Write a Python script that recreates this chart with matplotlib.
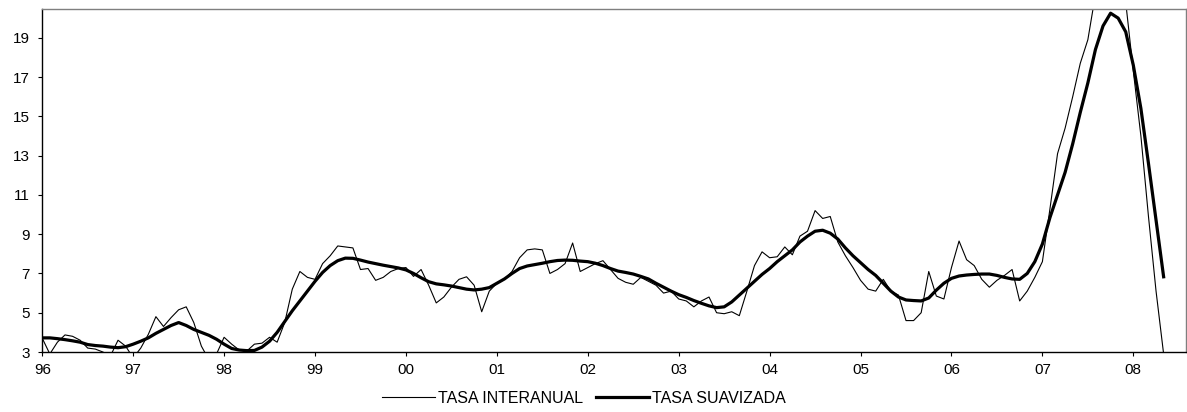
import numpy as np
import matplotlib.pyplot as plt

# monthly series, Jan 1996 .. May 2008
interanual = [
    3.70, 2.90, 3.50, 3.87, 3.80, 3.60, 3.20, 3.15, 3.00, 2.80, 3.60, 3.30,  # 96
    2.70, 3.20, 3.90, 4.80, 4.30, 4.75, 5.15, 5.30, 4.50, 3.30, 2.60, 2.90,  # 97
    3.75, 3.40, 3.10, 3.05, 3.40, 3.45, 3.75, 3.50, 4.50, 6.20, 7.10, 6.80,  # 98
    6.70, 7.50, 7.90, 8.40, 8.35, 8.30, 7.20, 7.25, 6.65, 6.80, 7.10, 7.25,  # 99
    7.30, 6.85, 7.20, 6.40, 5.50, 5.80, 6.30, 6.70, 6.83, 6.40, 5.05, 6.10,  # 00
    6.50, 6.70, 7.10, 7.80, 8.20, 8.25, 8.20, 7.00, 7.20, 7.50, 8.55, 7.10,  # 01
    7.30, 7.50, 7.65, 7.20, 6.75, 6.55, 6.45, 6.80, 6.60, 6.40, 6.00, 6.10,  # 02
    5.70, 5.60, 5.30, 5.60, 5.80, 5.00, 4.95, 5.05, 4.85, 6.10, 7.40, 8.10,  # 03
    7.80, 7.85, 8.35, 7.95, 8.90, 9.15, 10.20, 9.80, 9.90, 8.60, 7.90, 7.30,  # 04
    6.65, 6.20, 6.10, 6.70, 6.10, 5.90, 4.60, 4.60, 5.00, 7.10, 5.85, 5.70,  # 05
    7.30, 8.65, 7.70, 7.40, 6.70, 6.30, 6.65, 6.90, 7.20, 5.60, 6.10, 6.80,  # 06
    7.60, 10.30, 13.10, 14.40, 16.00, 17.70, 18.90, 21.20, 22.30, 22.60, 22.30, 20.80,  # 07
    17.30, 14.00, 9.90, 6.10, 2.90,  # 08
]

suavizada = [
    3.72, 3.72, 3.68, 3.63, 3.57, 3.50, 3.38, 3.33, 3.30, 3.25, 3.22, 3.27,
    3.40, 3.55, 3.72, 3.95, 4.15, 4.35, 4.50, 4.35, 4.15, 4.00, 3.85, 3.65,
    3.40, 3.18, 3.10, 3.07, 3.08, 3.25, 3.55, 4.00, 4.55, 5.10, 5.60, 6.10,
    6.60, 7.05, 7.40, 7.65, 7.78, 7.77, 7.68, 7.58, 7.50, 7.42, 7.35, 7.28,
    7.18, 7.00, 6.78, 6.58, 6.47, 6.42, 6.36, 6.28, 6.20, 6.16, 6.20, 6.28,
    6.50, 6.72, 7.00, 7.25, 7.38, 7.45, 7.52, 7.60, 7.66, 7.68, 7.67, 7.63,
    7.60, 7.52, 7.40, 7.25, 7.12, 7.05, 6.97, 6.85, 6.72, 6.50, 6.30, 6.10,
    5.92, 5.78, 5.62, 5.48, 5.35, 5.26, 5.30, 5.55, 5.90, 6.25, 6.60, 6.95,
    7.25, 7.60, 7.90, 8.20, 8.60, 8.90, 9.15, 9.20, 9.05, 8.75, 8.30, 7.90,
    7.55, 7.20, 6.90, 6.50, 6.10, 5.80, 5.65, 5.62, 5.60, 5.75, 6.15, 6.50,
    6.75, 6.87, 6.92, 6.95, 6.97, 6.97, 6.90, 6.80, 6.72, 6.70, 7.00, 7.60,
    8.50, 9.85, 11.00, 12.15, 13.60, 15.20, 16.70, 18.40, 19.60, 20.25, 20.00, 19.30,
    17.60, 15.40, 12.60, 9.70, 6.83,
]

year_ticks = list(range(1996, 2009))
year_labels = ["96", "97", "98", "99", "00", "01", "02", "03", "04", "05", "06", "07", "08"]
y_ticks = [3, 5, 7, 9, 11, 13, 15, 17, 19]

plt.rcParams['font.family'] = ['Liberation Sans', 'DejaVu Sans']

t = 1996 + np.arange(len(interanual)) / 12

fig = plt.figure(figsize=(11.87, 4.12), dpi=100)
ax = fig.add_axes([0.0356, 0.1456, 0.9636, 0.8333])

ax.plot(t, interanual, color="black", linewidth=0.8, label="TASA INTERANUAL")
ax.plot(t, suavizada, color="black", linewidth=2.3, label="TASA SUAVIZADA")

ax.set_xlim(1996, 2008.58)
ax.set_ylim(3, 20.48)
ax.set_xticks(year_ticks)
ax.set_xticklabels(year_labels)
ax.set_yticks(y_ticks)
ax.tick_params(axis="both", length=3, width=0.8, colors="black", labelsize=11)
ax.tick_params(axis="x", pad=5)
ax.tick_params(axis="y", pad=6)

for side in ["left", "bottom"]:
    ax.spines[side].set_color("black")
    ax.spines[side].set_linewidth(1.0)
for side in ["top", "right"]:
    ax.spines[side].set_color("#7f7f7f")
    ax.spines[side].set_linewidth(1.0)

fig.legend(loc="lower center", bbox_to_anchor=(0.492, -0.02), ncol=2, frameon=False,
           handlelength=3.3, handletextpad=0.2, columnspacing=0.8, fontsize=11.5)

fig.savefig("out.png", dpi=100)
